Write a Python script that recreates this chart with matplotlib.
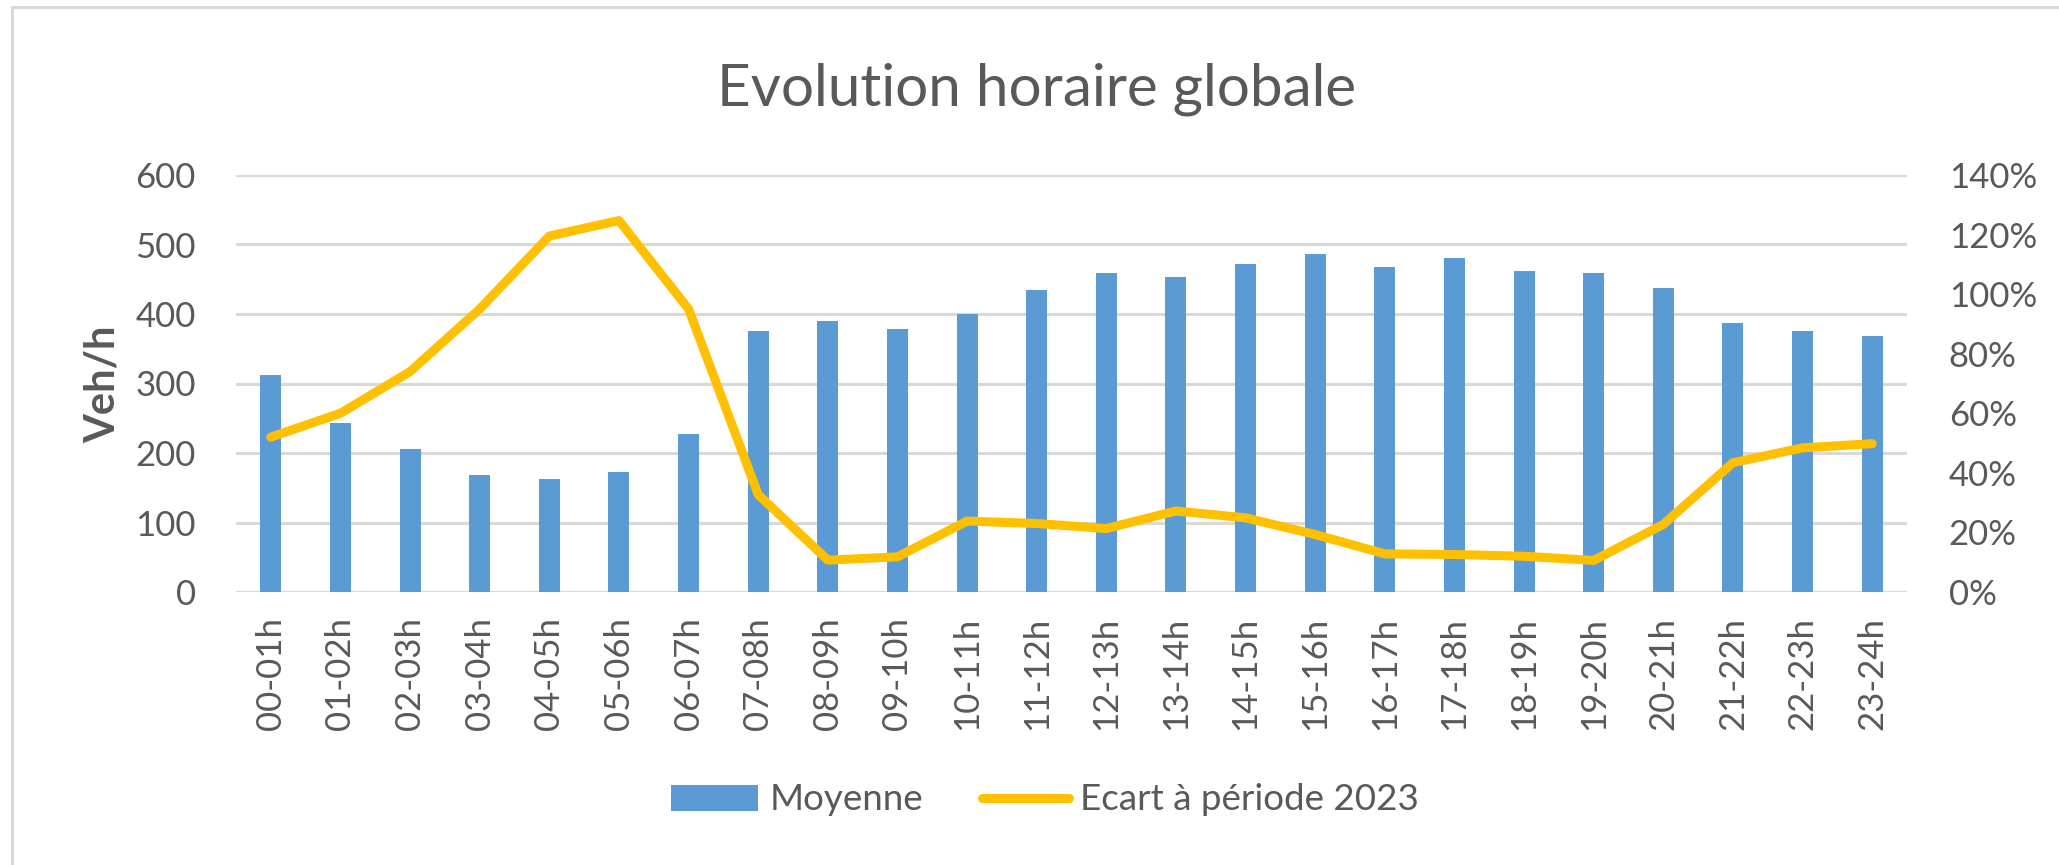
import matplotlib
matplotlib.use("Agg")
import matplotlib.pyplot as plt
from matplotlib.lines import Line2D
from matplotlib.ticker import FuncFormatter

categories = ["00-01h", "01-02h", "02-03h", "03-04h", "04-05h", "05-06h", "06-07h",
              "07-08h", "08-09h", "09-10h", "10-11h", "11-12h", "12-13h", "13-14h",
              "14-15h", "15-16h", "16-17h", "17-18h", "18-19h", "19-20h", "20-21h",
              "21-22h", "22-23h", "23-24h"]
moyenne = [312, 243, 206, 169, 162, 172, 228, 375, 390, 378, 400, 434, 459, 453,
           472, 487, 468, 481, 462, 459, 437, 387, 375, 368]
ecart = [52, 60, 74, 95, 119.5, 124.7, 95, 32.7, 10.7, 11.8, 23.8, 23, 21.3, 27.2,
         24.9, 19.3, 12.8, 12.6, 12, 10.6, 22.7, 43.4, 48.4, 49.8]
y_ticks = [0, 100, 200, 300, 400, 500, 600]
y2_ticks = [0, 20, 40, 60, 80, 100, 120, 140]

plt.rcParams['font.family'] = ['Lato', 'DejaVu Sans']
TXT = '#595959'
GRID = '#D9D9D9'

W, H = 2059, 865
fig = plt.figure(figsize=(W / 100, H / 100), dpi=100)
ax = fig.add_axes([236 / W, 1 - 592 / H, (1907 - 236) / W, (592 - 175) / H])
ax2 = ax.twinx()

x = list(range(len(categories)))
ax.bar(x, moyenne, width=0.3, color='#5B9BD5', zorder=3, label='Moyenne')
ax2.plot(x, ecart, color='#FFC000', lw=6.5, solid_joinstyle='round',
         solid_capstyle='round', zorder=4, label='Ecart à période 2023')

ax.set_xlim(-0.5, len(categories) - 0.5)
ax.set_ylim(0, 600)
ax2.set_ylim(0, 140)
ax.set_yticks(y_ticks)
ax2.set_yticks(y2_ticks)
ax2.yaxis.set_major_formatter(FuncFormatter(lambda v, p: f"{int(v)}%"))
ax.set_xticks(x)
ax.set_xticklabels(categories, rotation=90)

for a in (ax, ax2):
    for s in a.spines.values():
        s.set_visible(False)
ax.yaxis.grid(True, color=GRID, lw=2.2, zorder=0)
ax.set_axisbelow(True)
ax.tick_params(axis='y', length=0, pad=29, labelsize=25, labelcolor=TXT)
ax.tick_params(axis='x', length=0, pad=18, labelsize=25, labelcolor=TXT)
ax2.tick_params(axis='y', length=0, pad=30, labelsize=25, labelcolor=TXT)

ax.set_ylabel('Veh/h', fontsize=30, color=TXT, fontweight='bold')
ax.yaxis.set_label_coords((122 - 236) / (1907 - 236), (592 - 384) / (592 - 175))

fig.text(1037 / W, 1 - 89 / H, 'Evolution horaire globale', ha='center', va='center',
         fontsize=42, color=TXT)

h1, l1 = ax.get_legend_handles_labels()
h2, l2 = ax2.get_legend_handles_labels()
fig.legend(h1 + h2, l1 + l2, loc='center', bbox_to_anchor=(1045 / W, 1 - 800 / H),
           ncol=2, frameon=False, fontsize=26.5, labelcolor=TXT, handlelength=2.36,
           handleheight=0.7, handletextpad=0.3, columnspacing=1.6)

# chart border (left and top visible)
fig.add_artist(Line2D([12 / W, 12 / W], [0, 1 - 7 / H], transform=fig.transFigure,
                      color=GRID, lw=2.2))
fig.add_artist(Line2D([12 / W, 1], [1 - 7 / H, 1 - 7 / H], transform=fig.transFigure,
                      color=GRID, lw=2.2))

fig.savefig('out.png', dpi=100, facecolor='white')
